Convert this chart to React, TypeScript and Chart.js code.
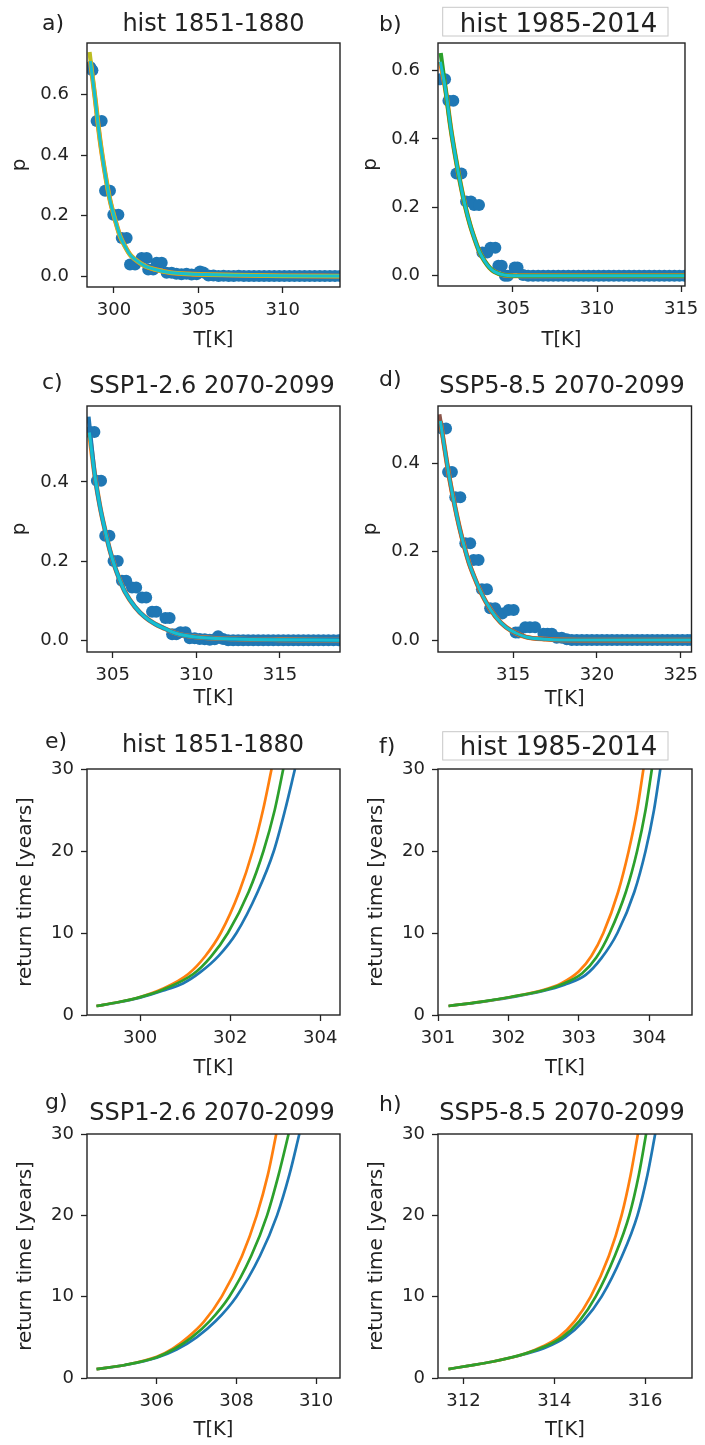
import React, { useEffect, useRef } from 'react';
import { Chart, registerables } from 'chart.js';
Chart.register(...registerables);

const FONT = '"DejaVu Sans", sans-serif';
const INK = '#222222';
const BLUE = '#1f77b4';
const ORANGE = '#ff7f0e';
const GREEN = '#2ca02c';
const CYAN = '#17becf';
const OLIVE = '#bcbd22';
const BROWN = '#8c564b';

// ---------- a) hist 1851-1880 : empirical probability vs T[K]
const tempA = [
  298.6, 298.72, 298.97, 299.27, 299.47, 299.76, 299.96, 300.26, 300.46, 300.75,
  300.95, 301.25, 301.64, 301.94, 302.03, 302.33, 302.53, 302.83, 303.12, 303.42,
  303.7, 304.0, 304.3, 304.6, 304.9, 305.1, 305.3, 305.6, 305.9, 306.2,
  306.5, 306.8, 307.1, 307.4, 307.7, 308.0, 308.3, 308.6, 308.9, 309.2,
  309.5, 309.8, 310.1, 310.4, 310.7, 311.0, 311.3, 311.6, 311.9, 312.2,
  312.5, 312.8, 313.1, 313.4];
const probA = [
  0.69, 0.68, 0.512, 0.512, 0.282, 0.282, 0.203, 0.203, 0.126, 0.126,
  0.038, 0.038, 0.06, 0.06, 0.022, 0.022, 0.044, 0.044, 0.011, 0.011,
  0.008, 0.006, 0.008, 0.005, 0.006, 0.015, 0.012, 0.002, 0.002, 0.0,
  0.001, 0.0, 0.0, 0.001, 0.0, 0.0, 0.0, 0.0, 0.0, 0.0,
  0.0, 0.0, 0.0, 0.0, 0.0, 0.0, 0.0, 0.0, 0.0, 0.0,
  0.0, 0.0, 0.0, 0.0];
const fitTempA = [298.6, 298.87, 299.17, 299.47, 299.76, 300.06, 300.36, 300.65, 300.95, 301.25, 301.84, 302.43, 303.42, 304.5, 305.5, 307.2, 310.0, 313.4];
const fitProbA = [0.71, 0.592, 0.45, 0.34, 0.252, 0.187, 0.132, 0.099, 0.071, 0.055, 0.033, 0.022, 0.011, 0.007, 0.005, 0.003, 0.001, 0.0];
const fitTopA = [298.55, 0.74];

// ---------- b) hist 1985-2014
const tempB = [
  300.67, 300.96, 301.16, 301.45, 301.64, 301.93, 302.21, 302.5, 302.69, 302.98,
  303.18, 303.47, 303.66, 303.95, 304.13, 304.33, 304.52, 304.7, 305.1, 305.27,
  305.6, 305.9, 306.2, 306.5, 306.8, 307.1, 307.4, 307.7, 308.0, 308.3,
  308.6, 308.9, 309.2, 309.5, 309.8, 310.1, 310.4, 310.7, 311.0, 311.3,
  311.6, 311.9, 312.2, 312.5, 312.8, 313.1, 313.4, 313.7, 314.0, 314.3,
  314.6, 314.9, 315.2];
const probB = [
  0.574, 0.574, 0.511, 0.511, 0.299, 0.299, 0.217, 0.217, 0.207, 0.207,
  0.068, 0.068, 0.082, 0.082, 0.029, 0.029, 0.0, 0.0, 0.024, 0.024,
  0.002, 0.0, 0.0, 0.0, 0.0, 0.0, 0.0, 0.0, 0.0, 0.0,
  0.0, 0.0, 0.0, 0.0, 0.0, 0.0, 0.0, 0.0, 0.0, 0.0,
  0.0, 0.0, 0.0, 0.0, 0.0, 0.0, 0.0, 0.0, 0.0, 0.0,
  0.0, 0.0, 0.0];
const fitTempB = [300.68, 301.0, 301.29, 301.58, 301.87, 302.16, 302.44, 302.73, 303.02, 303.31, 303.6, 303.89, 304.46, 305.0, 306.0, 310.0, 315.23];
const fitProbB = [0.625, 0.54, 0.434, 0.347, 0.27, 0.203, 0.15, 0.106, 0.068, 0.043, 0.024, 0.012, 0.002, 0.0, 0.0, 0.0, 0.0];
const fitTopB = [300.7, 0.651];

// ---------- c) SSP1-2.6 2070-2099
const tempC = [
  303.64, 303.9, 304.05, 304.3, 304.55, 304.8, 305.05, 305.3, 305.55, 305.8,
  306.15, 306.4, 306.75, 307.0, 307.35, 307.6, 308.15, 308.4, 308.55, 308.8,
  309.05, 309.35, 309.6, 309.9, 310.2, 310.5, 310.8, 311.1, 311.3, 311.6,
  311.9, 312.2, 312.5, 312.8, 313.1, 313.4, 313.7, 314.0, 314.3, 314.6,
  314.9, 315.2, 315.5, 315.8, 316.1, 316.4, 316.7, 317.0, 317.3, 317.6,
  317.9, 318.2, 318.5];
const probC = [
  0.526, 0.526, 0.403, 0.403, 0.264, 0.264, 0.2, 0.2, 0.15, 0.15,
  0.133, 0.133, 0.108, 0.108, 0.072, 0.072, 0.056, 0.056, 0.015, 0.015,
  0.02, 0.02, 0.005, 0.005, 0.003, 0.002, 0.001, 0.002, 0.01, 0.003,
  0.0, 0.0, 0.0, 0.0, 0.0, 0.0, 0.0, 0.0, 0.0, 0.0,
  0.0, 0.0, 0.0, 0.0, 0.0, 0.0, 0.0, 0.0, 0.0, 0.0,
  0.0, 0.0, 0.0];
const fitTempC = [303.6, 303.94, 304.24, 304.54, 304.83, 305.13, 305.43, 305.73, 306.33, 306.93, 307.52, 308.12, 308.72, 309.92, 312.3, 315.0, 318.59];
const fitProbC = [0.525, 0.413, 0.337, 0.278, 0.227, 0.185, 0.151, 0.122, 0.084, 0.058, 0.041, 0.029, 0.018, 0.008, 0.003, 0.001, 0.0];
const fitTopC = [303.55, 0.565];

// ---------- d) SSP5-8.5 2070-2099
const tempD = [
  310.76, 311.0, 311.12, 311.35, 311.55, 311.85, 312.15, 312.44, 312.64, 312.94,
  313.14, 313.44, 313.63, 313.93, 314.1, 314.35, 314.73, 315.03, 315.15, 315.32,
  315.72, 316.0, 316.31, 316.81, 317.05, 317.31, 317.6, 317.9, 318.2, 318.5,
  318.8, 319.1, 319.4, 319.7, 320.0, 320.3, 320.6, 320.9, 321.2, 321.5,
  321.8, 322.1, 322.4, 322.7, 323.0, 323.3, 323.6, 323.9, 324.2, 324.5,
  324.8, 325.1, 325.4, 325.65];
const probD = [
  0.478, 0.478, 0.38, 0.38, 0.323, 0.323, 0.219, 0.219, 0.181, 0.181,
  0.115, 0.115, 0.072, 0.072, 0.06, 0.06, 0.068, 0.068, 0.017, 0.017,
  0.029, 0.029, 0.029, 0.014, 0.014, 0.014, 0.005, 0.005, 0.002, 0.0,
  0.0, 0.0, 0.0, 0.0, 0.0, 0.0, 0.0, 0.0, 0.0, 0.0,
  0.0, 0.0, 0.0, 0.0, 0.0, 0.0, 0.0, 0.0, 0.0, 0.0,
  0.0, 0.0, 0.0, 0.0];
const fitTempD = [310.66, 310.9, 311.19, 311.49, 311.79, 312.09, 312.38, 312.68, 312.98, 313.38, 313.97, 314.57, 315.16, 315.76, 316.95, 319.0, 325.64];
const fitProbD = [0.495, 0.437, 0.369, 0.309, 0.256, 0.211, 0.173, 0.143, 0.116, 0.086, 0.052, 0.029, 0.016, 0.007, 0.002, 0.0, 0.0];
const fitTopD = [310.6, 0.51];

// ---------- e) return time, hist 1851-1880
const eOrangeT = [299.03, 299.5, 300.0, 300.5, 301.07, 301.45, 301.79, 302.2, 302.5, 302.73, 302.92];
const eOrangeY = [1.1, 1.55, 2.2, 3.2, 5.0, 7.2, 10, 15, 20, 25, 30];
const eGreenT = [299.03, 299.5, 300.0, 300.5, 301.18, 301.57, 301.95, 302.41, 302.74, 302.99, 303.18];
const eGreenY = [1.1, 1.55, 2.18, 3.08, 5.0, 7.1, 10, 15, 20, 25, 30];
const eBlueT = [299.03, 299.5, 300.0, 300.5, 300.95, 301.33, 301.75, 302.14, 302.61, 302.97, 303.22, 303.44];
const eBlueY = [1.1, 1.53, 2.12, 2.95, 3.85, 5.2, 7.25, 10, 15, 20, 25, 30];

// ---------- f) return time, hist 1985-2014
const fOrangeT = [301.15, 301.6, 302.03, 302.48, 302.75, 303.0, 303.18, 303.35, 303.56, 303.71, 303.83, 303.92];
const fOrangeY = [1.1, 1.6, 2.2, 3.0, 3.85, 5.3, 7.2, 10, 15, 20, 25, 30];
const fGreenT = [301.15, 301.6, 302.03, 302.48, 302.78, 303.05, 303.25, 303.44, 303.67, 303.83, 303.95, 304.04];
const fGreenY = [1.1, 1.6, 2.2, 2.95, 3.8, 5.1, 7.0, 10, 15, 20, 25, 30];
const fBlueT = [301.15, 301.6, 302.03, 302.48, 302.8, 303.1, 303.32, 303.55, 303.79, 303.95, 304.07, 304.16];
const fBlueY = [1.1, 1.58, 2.15, 2.9, 3.7, 4.9, 6.9, 10, 15, 20, 25, 30];

// ---------- g) return time, SSP1-2.6 2070-2099
const gOrangeT = [304.49, 305.2, 306.0, 306.4, 306.78, 307.18, 307.63, 308.14, 308.51, 308.79, 309.0];
const gOrangeY = [1.1, 1.6, 2.6, 3.6, 5.0, 6.9, 10, 15, 20, 25, 30];
const gGreenT = [304.49, 305.2, 306.0, 306.45, 306.88, 307.33, 307.82, 308.37, 308.77, 309.06, 309.31];
const gGreenY = [1.1, 1.6, 2.55, 3.6, 5.0, 7.0, 10, 15, 20, 25, 30];
const gBlueT = [304.49, 305.2, 306.0, 306.5, 307.0, 307.48, 308.0, 308.59, 309.02, 309.33, 309.58];
const gBlueY = [1.1, 1.58, 2.5, 3.5, 5.0, 7.0, 10, 15, 20, 25, 30];

// ---------- h) return time, SSP5-8.5 2070-2099
const hOrangeT = [311.67, 312.1, 312.63, 313.36, 313.75, 314.09, 314.45, 314.8, 315.2, 315.48, 315.68, 315.84];
const hOrangeY = [1.1, 1.5, 2.0, 3.0, 3.9, 5.0, 7.0, 10, 15, 20, 25, 30];
const hGreenT = [311.67, 312.1, 312.63, 313.36, 313.8, 314.17, 314.55, 314.91, 315.33, 315.65, 315.86, 316.02];
const hGreenY = [1.1, 1.5, 2.0, 3.0, 3.9, 5.0, 7.0, 10, 15, 20, 25, 30];
const hBlueT = [311.67, 312.1, 312.63, 313.36, 313.85, 314.24, 314.64, 315.04, 315.49, 315.83, 316.05, 316.22];
const hBlueY = [1.1, 1.5, 2.0, 2.95, 3.85, 5.0, 7.0, 10, 15, 20, 25, 30];

// ---------- ticks / labels
const xTicksA = [300, 305, 310];
const xTicksB = [305, 310, 315];
const xTicksC = [305, 310, 315];
const xTicksD = [315, 320, 325];
const xTicksE = [300, 302, 304];
const xTicksF = [301, 302, 303, 304];
const xTicksG = [306, 308, 310];
const xTicksH = [312, 314, 316];
const yTicksP4 = [0, 0.2, 0.4, 0.6];
const yTicksP3 = [0, 0.2, 0.4];
const yTicksRT = [0, 10, 20, 30];

const titles = ['hist 1851-1880', 'hist 1985-2014', 'SSP1-2.6 2070-2099', 'SSP5-8.5 2070-2099'];
const letters = ['a)', 'b)', 'c)', 'd)', 'e)', 'f)', 'g)', 'h)'];
const xLabel = 'T[K]';
const yLabelP = 'p';
const yLabelRT = 'return time [years]';

function pts(xs: number[], ys: number[]) {
  return xs.map((x, i) => ({ x, y: ys[i] }));
}

function probDatasets(t: number[], p: number[], ft: number[], fp: number[], top: number[], altColor: string) {
  const main = pts(ft, fp);
  const alt = [{ x: top[0], y: top[1] }, ...main.slice(1)];
  return [
    { data: main, borderColor: CYAN, borderWidth: 3, pointRadius: 0, showLine: true, cubicInterpolationMode: 'monotone', clip: 0, order: 0 },
    { data: alt, borderColor: altColor, borderWidth: 4.2, pointRadius: 0, showLine: true, cubicInterpolationMode: 'monotone', clip: 0, order: 1 },
    { data: main, borderColor: ORANGE, borderWidth: 4.8, pointRadius: 0, showLine: true, cubicInterpolationMode: 'monotone', clip: 0, order: 2 },
    { data: pts(t, p), showLine: false, pointRadius: 6, pointBorderWidth: 0, pointBackgroundColor: BLUE, borderColor: BLUE, clip: 0, order: 3 },
  ];
}

function rtDatasets(ot: number[], oy: number[], gt: number[], gy: number[], bt: number[], by: number[]) {
  const line = (d: any[], c: string, order: number) => ({ data: d, borderColor: c, borderWidth: 2.7, pointRadius: 0, showLine: true, cubicInterpolationMode: 'monotone', clip: 0, order });
  return [line(pts(gt, gy), GREEN, 0), line(pts(ot, oy), ORANGE, 1), line(pts(bt, by), BLUE, 2)];
}

type Panel = {
  left: number; top: number; w: number; h: number;
  plot: { l: number; r: number; t: number; b: number };
  xMin: number; xMax: number; xTicks: number[];
  yMin: number; yMax: number; yTicks: number[]; yDec: number;
  yLabel: string; yTitleX: number; xTitleOff: number; yPad: number;
  title: string; titleSize: number; titleX: number; titleY: number;
  letter: string; letterX: number; letterY: number;
  box?: { x: number; y: number; w: number; h: number };
  datasets: any[];
};

const PANELS: Panel[] = [
  { left: 0, top: 0, w: 352, h: 360, plot: { l: 87, r: 340, t: 43, b: 287 },
    xMin: 298.4, xMax: 313.4, xTicks: xTicksA, yMin: -0.036, yMax: 0.77, yTicks: yTicksP4, yDec: 1,
    yLabel: yLabelP, yTitleX: 20, xTitleOff: 20, yPad: 12,
    title: titles[0], titleSize: 24, titleX: 213.5, titleY: 31, letter: letters[0], letterX: 42, letterY: 30,
    datasets: probDatasets(tempA, probA, fitTempA, fitProbA, fitTopA, OLIVE) },
  { left: 352, top: 0, w: 353, h: 360, plot: { l: 86, r: 340, t: 43, b: 286 },
    xMin: 300.54, xMax: 315.23, xTicks: xTicksB, yMin: -0.03, yMax: 0.68, yTicks: yTicksP4, yDec: 1,
    yLabel: yLabelP, yTitleX: 19, xTitleOff: 20, yPad: 12,
    title: titles[1], titleSize: 26, titleX: 206.5, titleY: 31.5, letter: letters[1], letterX: 27, letterY: 31,
    box: { x: 90.7, y: 7.3, w: 225.3, h: 28.7 },
    datasets: probDatasets(tempB, probB, fitTempB, fitProbB, fitTopB, GREEN) },
  { left: 0, top: 360, w: 352, h: 360, plot: { l: 87, r: 340, t: 46, b: 292 },
    xMin: 303.46, xMax: 318.59, xTicks: xTicksC, yMin: -0.03, yMax: 0.592, yTicks: yTicksP3, yDec: 1,
    yLabel: yLabelP, yTitleX: 20, xTitleOff: 22, yPad: 12,
    title: titles[2], titleSize: 24, titleX: 212, titleY: 33, letter: letters[2], letterX: 42, letterY: 29,
    datasets: probDatasets(tempC, probC, fitTempC, fitProbC, fitTopC, BLUE) },
  { left: 352, top: 360, w: 353, h: 360, plot: { l: 86, r: 340, t: 46, b: 292 },
    xMin: 310.52, xMax: 325.64, xTicks: xTicksD, yMin: -0.027, yMax: 0.529, yTicks: yTicksP3, yDec: 1,
    yLabel: yLabelP, yTitleX: 19, xTitleOff: 21, yPad: 12,
    title: titles[3], titleSize: 24, titleX: 210, titleY: 33, letter: letters[3], letterX: 27, letterY: 26,
    datasets: probDatasets(tempD, probD, fitTempD, fitProbD, fitTopD, BROWN) },
  { left: 0, top: 720, w: 352, h: 365, plot: { l: 87, r: 340, t: 49, b: 295 },
    xMin: 298.82, xMax: 304.44, xTicks: xTicksE, yMin: 0, yMax: 30, yTicks: yTicksRT, yDec: 0,
    yLabel: yLabelRT, yTitleX: 26, xTitleOff: 17, yPad: 7,
    title: titles[0], titleSize: 24, titleX: 213, titleY: 31.5, letter: letters[4], letterX: 45, letterY: 28,
    datasets: rtDatasets(eOrangeT, eOrangeY, eGreenT, eGreenY, eBlueT, eBlueY) },
  { left: 352, top: 720, w: 353, h: 365, plot: { l: 86, r: 340, t: 49, b: 295 },
    xMin: 301.0, xMax: 304.61, xTicks: xTicksF, yMin: 0, yMax: 30, yTicks: yTicksRT, yDec: 0,
    yLabel: yLabelRT, yTitleX: 25, xTitleOff: 17, yPad: 7,
    title: titles[1], titleSize: 26, titleX: 206.5, titleY: 35, letter: letters[5], letterX: 27, letterY: 33,
    box: { x: 90.7, y: 11.7, w: 225.3, h: 28.3 },
    datasets: rtDatasets(fOrangeT, fOrangeY, fGreenT, fGreenY, fBlueT, fBlueY) },
  { left: 0, top: 1085, w: 352, h: 360, plot: { l: 87, r: 340, t: 49, b: 293 },
    xMin: 304.25, xMax: 310.6, xTicks: xTicksG, yMin: 0, yMax: 30, yTicks: yTicksRT, yDec: 0,
    yLabel: yLabelRT, yTitleX: 26, xTitleOff: 15, yPad: 7,
    title: titles[2], titleSize: 24, titleX: 212, titleY: 35, letter: letters[6], letterX: 45, letterY: 24,
    datasets: rtDatasets(gOrangeT, gOrangeY, gGreenT, gGreenY, gBlueT, gBlueY) },
  { left: 352, top: 1085, w: 353, h: 360, plot: { l: 86, r: 340, t: 49, b: 293 },
    xMin: 311.44, xMax: 317.03, xTicks: xTicksH, yMin: 0, yMax: 30, yTicks: yTicksRT, yDec: 0,
    yLabel: yLabelRT, yTitleX: 25, xTitleOff: 15, yPad: 7,
    title: titles[3], titleSize: 24, titleX: 210, titleY: 35, letter: letters[7], letterX: 27, letterY: 26,
    datasets: rtDatasets(hOrangeT, hOrangeY, hGreenT, hGreenY, hBlueT, hBlueY) },
];

function makeChart(canvas: HTMLCanvasElement, p: Panel) {
  const W = p.w, H = p.h;
  const yTitleSize = 20, xTitleSize = 19.5;
  const deco = {
    id: 'deco',
    afterDraw(chart: any) {
      const ctx = chart.ctx as CanvasRenderingContext2D;
      const a = chart.chartArea;
      ctx.save();
      ctx.strokeStyle = INK;
      ctx.lineWidth = 1.4;
      ctx.strokeRect(a.left, a.top, a.right - a.left, a.bottom - a.top);
      if (p.box) {
        ctx.fillStyle = '#ffffff';
        ctx.fillRect(p.box.x, p.box.y, p.box.w, p.box.h);
        ctx.strokeStyle = '#c8c8c8';
        ctx.lineWidth = 1;
        ctx.strokeRect(p.box.x, p.box.y, p.box.w, p.box.h);
      }
      ctx.fillStyle = INK;
      ctx.textBaseline = 'alphabetic';
      ctx.textAlign = 'center';
      ctx.font = `${p.titleSize}px ${FONT}`;
      ctx.fillText(p.title, p.titleX, p.titleY);
      ctx.textAlign = 'left';
      ctx.font = `22px ${FONT}`;
      ctx.fillText(p.letter, p.letterX, p.letterY);
      ctx.restore();
    },
  };
  const grid = { display: true, drawOnChartArea: false, drawTicks: true, tickLength: 6, tickWidth: 1.3, tickColor: INK };
  return new Chart(canvas, {
    type: 'line',
    data: { datasets: p.datasets },
    options: {
      animation: false,
      responsive: false,
      maintainAspectRatio: false,
      devicePixelRatio: 1,
      events: [],
      layout: { padding: { left: 0, top: p.plot.t, right: W - p.plot.r, bottom: 0 } },
      plugins: { legend: { display: false }, tooltip: { enabled: false }, title: { display: false } },
      scales: {
        x: {
          type: 'linear', min: p.xMin, max: p.xMax,
          afterBuildTicks: (s: any) => { s.ticks = p.xTicks.map((v) => ({ value: v })); },
          afterFit: (s: any) => { s.height = H - p.plot.b; },
          ticks: { color: INK, font: { family: FONT, size: 18 }, padding: 6.5, autoSkip: false, maxRotation: 0, minRotation: 0, callback: (v: any) => String(v) },
          grid,
          border: { display: false },
          title: { display: true, text: xLabel, color: INK, font: { family: FONT, size: xTitleSize }, padding: { top: 0, bottom: p.xTitleOff - xTitleSize * 0.6 } },
        },
        y: {
          type: 'linear', min: p.yMin, max: p.yMax,
          afterBuildTicks: (s: any) => { s.ticks = p.yTicks.map((v) => ({ value: v })); },
          afterFit: (s: any) => { s.width = p.plot.l; },
          ticks: { color: INK, font: { family: FONT, size: 18 }, padding: p.yPad, autoSkip: false, callback: (v: any) => Number(v).toFixed(p.yDec) },
          grid,
          border: { display: false },
          title: { display: true, text: p.yLabel, color: INK, font: { family: FONT, size: yTitleSize }, padding: { top: p.yTitleX - yTitleSize * 0.6, bottom: 0 } },
        },
      },
    } as any,
    plugins: [deco],
  });
}

export default function App() {
  const refs = useRef<(HTMLCanvasElement | null)[]>([]);
  useEffect(() => {
    const charts = PANELS.map((p, i) => makeChart(refs.current[i] as HTMLCanvasElement, p));
    return () => charts.forEach((c) => c.destroy());
  }, []);
  return (
    <div style={{ position: 'absolute', left: 0, top: 0, width: 705, height: 1445, background: '#ffffff' }}>
      {PANELS.map((p, i) => (
        <canvas
          key={i}
          ref={(el) => { refs.current[i] = el; }}
          width={p.w}
          height={p.h}
          style={{ position: 'absolute', left: p.left, top: p.top, width: p.w, height: p.h }}
        />
      ))}
    </div>
  );
}
